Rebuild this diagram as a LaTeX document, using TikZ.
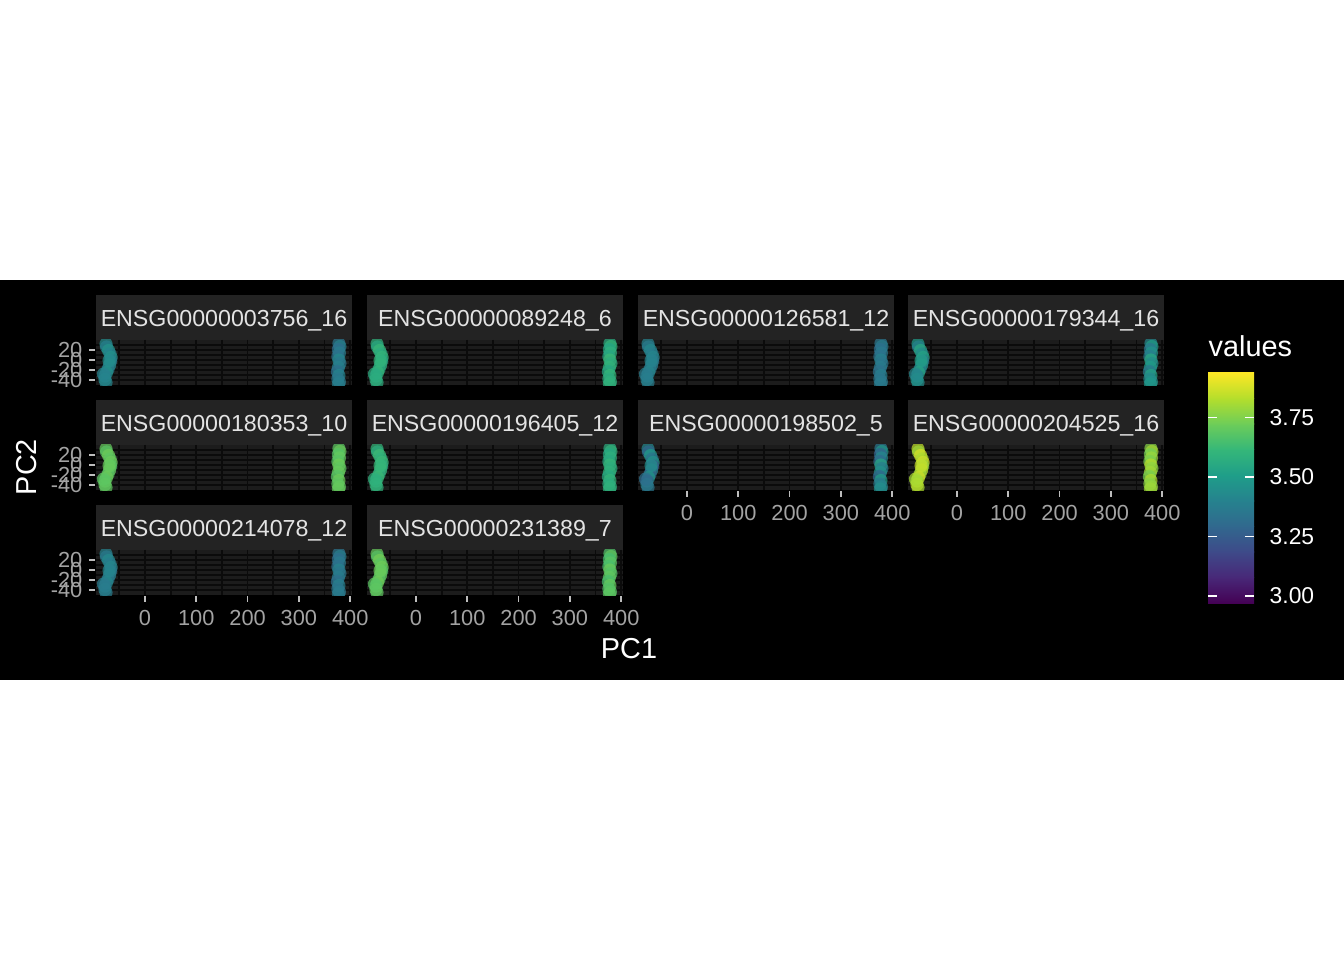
\documentclass[tikz,border=0pt]{standalone}
\usepackage{fontspec}
\setmainfont{Liberation Sans}
\usepackage{xcolor}

% viridis stops
\definecolor{vir0}{HTML}{440154}
\definecolor{vir1}{HTML}{482878}
\definecolor{vir2}{HTML}{3E4A89}
\definecolor{vir3}{HTML}{31688E}
\definecolor{vir4}{HTML}{26828E}
\definecolor{vir5}{HTML}{1F9E89}
\definecolor{vir6}{HTML}{35B779}
\definecolor{vir7}{HTML}{6DCD59}
\definecolor{vir8}{HTML}{B4DE2C}
\definecolor{vir9}{HTML}{FDE725}
\definecolor{stripgray}{HTML}{232323}
\definecolor{panelgray}{HTML}{1C1C1C}
\definecolor{gridblack}{HTML}{0B0B0B}
\definecolor{tickgray}{HTML}{BDBDBD}
\definecolor{ticktext}{HTML}{A3A3A3}
\definecolor{striptext}{HTML}{E3E3E3}

\begin{document}
\begin{tikzpicture}[x=0.01cm,y=-0.01cm,
  striplab/.style={text=striptext, inner sep=0pt, anchor=base, font=\fontsize{6.6}{7}\selectfont},
  ticklab/.style={text=ticktext, inner sep=0pt, font=\fontsize{6.2}{7}\selectfont},
  axtitle/.style={text=white, inner sep=0pt, font=\fontsize{8.2}{9}\selectfont},
  legtext/.style={text=white, inner sep=0pt, anchor=west, font=\fontsize{6.5}{7}\selectfont},
  tickline/.style={tickgray, line width=0.5pt}]
\useasboundingbox (0,0) rectangle (1344,960);

% Background
\fill[white] (0,0) rectangle (1344,960);
\fill[black] (0,280) rectangle (1344,680);

% Panels: number / left / strip top / gene / left value / right value / spread
\foreach \i/\cx/\cy/\gene/\bl/\br/\sp in {
  1/96/295/ENSG00000003756\_16/3.42/3.37/0.06,
  2/367/295/ENSG00000089248\_6/3.58/3.58/0.05,
  3/638/295/ENSG00000126581\_12/3.39/3.36/0.04,
  4/908/295/ENSG00000179344\_16/3.46/3.45/0.12,
  5/96/400/ENSG00000180353\_10/3.70/3.70/0.03,
  6/367/400/ENSG00000196405\_12/3.60/3.58/0.04,
  7/638/400/ENSG00000198502\_5/3.37/3.40/0.16,
  8/908/400/ENSG00000204525\_16/3.83/3.78/0.06,
  9/96/505/ENSG00000214078\_12/3.39/3.36/0.05,
  10/367/505/ENSG00000231389\_7/3.70/3.68/0.04}
{
  % strip
  \fill[stripgray] (\cx,\cy) rectangle ++(256,45);
  \node[striplab] (strip\i) at (\cx+128,\cy+31.7) {\gene};
  \fill[panelgray] (\cx,\cy+45) rectangle ++(256,45);
  % data coordinates
  \begin{scope}[shift={(\cx+49,\cy+65)}, x=0.00513cm, y=0.005cm]
    \foreach \gx in {-50,0,...,400}
      \draw[gridblack, line width=0.5pt] (\gx,40) -- (\gx,-50);
    \foreach \gy in {30,20,...,-40}
      \draw[gridblack, line width=0.5pt] (-95.5,\gy) -- (403.5,\gy);
    \clip (-95.5,40) rectangle (403.5,-50);
    \foreach \ptx/\pty/\dv in {
      -76/32/0.3, -75/26/-0.5, -71/19/0.8, -68/12/-0.2, -66/5/0.6, -67/-2/-0.9,
      -69/-10/0.1, -72/-18/-0.4, -75/-25/0.7, -78/-32/-0.7, -78/-39/0.2, -76/-45/-0.1,
      -70/-1/0.5, -81/-28/-0.3,
      378/33/-0.3, 380/27/0.5, 377/21/-0.8, 379/14/0.2, 376/7/-0.6, 378/0/0.9,
      380/-7/-0.1, 377/-15/0.4, 375/-23/-0.7, 378/-31/0.7, 376/-38/-0.2,
      379/-44/0.1, 377/-48/0.3}
    {
      \pgfmathsetmacro{\vval}{(\ptx<150 ? \bl : \br)+\sp*\dv}
      \pgfmathsetmacro{\tval}{max(0,min(8.999,(\vval-2.97)/0.967*9))}
      \pgfmathtruncatemacro{\vlo}{\tval}
      \pgfmathtruncatemacro{\vhi}{\vlo+1}
      \pgfmathtruncatemacro{\vpct}{round(100*(\vhi-\tval))}
      \colorlet{ptcol}{vir\vlo!\vpct!vir\vhi}
      \fill[ptcol, fill opacity=0.7] (\ptx,\pty) circle[radius=0.066cm];
    }
  \end{scope}
}

% y axis
\foreach \cy in {295,400,505}
  \foreach \lab/\dy in {20/55,0/65,-20/75,-40/85} {
    \draw[tickline] (89,\cy+\dy) -- (95,\cy+\dy);
    \node[ticklab, anchor=east] (yt\cy\dy) at (83,\cy+\dy) {\lab};
  }

% x axis
\foreach \cx/\by in {96/595,367/595,638/490,908/490}
  \foreach \lab in {0,100,200,300,400} {
    \draw[tickline] (\cx+49+0.513*\lab,\by+1) -- ++(0,6);
    \node[ticklab] (xt\cx\lab) at (\cx+49+0.513*\lab,\by+23) {\lab};
  }

% Axis titles
\node[axtitle, rotate=90] (pctwo) at (27,467) {PC2};
\node[axtitle] (pcone) at (629,649) {PC1};

% Legend
\node[axtitle, anchor=base west] (legtitle) at (1208,356) {values};
\foreach \k [count=\kk from 1] in {0,...,8}
  \shade[bottom color=vir\k, top color=vir\kk]
    (1208,{603-\k*230/9+0.3}) rectangle (1254,{603-\kk*230/9-0.3});
\foreach \v/\ty [count=\n] in {3.00/596,3.25/536.5,3.50/477,3.75/417.5} {
  \draw[white, line width=0.4pt] (1208,\ty) -- (1217,\ty) (1245,\ty) -- (1254,\ty);
  \node[legtext] (leg\n) at (1269,\ty) {\v};
}

\end{tikzpicture}
\end{document}
